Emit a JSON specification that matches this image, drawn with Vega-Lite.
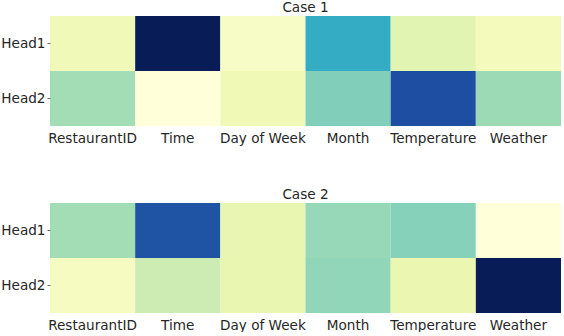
{
  "$schema": "https://vega.github.io/schema/vega-lite/v6.json",
  "padding": {"left": 0, "top": 1, "right": 3, "bottom": 0},
  "background": "white",
  "datasets": {
    "all": [
      {"case": "Case 1", "head": "Head1", "feature": "RestaurantID", "v": 0.10},
      {"case": "Case 1", "head": "Head1", "feature": "Time", "v": 1.0},
      {"case": "Case 1", "head": "Head1", "feature": "Day of Week", "v": 0.06},
      {"case": "Case 1", "head": "Head1", "feature": "Month", "v": 0.53},
      {"case": "Case 1", "head": "Head1", "feature": "Temperature", "v": 0.16},
      {"case": "Case 1", "head": "Head1", "feature": "Weather", "v": 0.09},
      {"case": "Case 1", "head": "Head2", "feature": "RestaurantID", "v": 0.31},
      {"case": "Case 1", "head": "Head2", "feature": "Time", "v": 0.0},
      {"case": "Case 1", "head": "Head2", "feature": "Day of Week", "v": 0.11},
      {"case": "Case 1", "head": "Head2", "feature": "Month", "v": 0.37},
      {"case": "Case 1", "head": "Head2", "feature": "Temperature", "v": 0.80},
      {"case": "Case 1", "head": "Head2", "feature": "Weather", "v": 0.32},
      {"case": "Case 2", "head": "Head1", "feature": "RestaurantID", "v": 0.31},
      {"case": "Case 2", "head": "Head1", "feature": "Time", "v": 0.78},
      {"case": "Case 2", "head": "Head1", "feature": "Day of Week", "v": 0.14},
      {"case": "Case 2", "head": "Head1", "feature": "Month", "v": 0.33},
      {"case": "Case 2", "head": "Head1", "feature": "Temperature", "v": 0.36},
      {"case": "Case 2", "head": "Head1", "feature": "Weather", "v": 0.0},
      {"case": "Case 2", "head": "Head2", "feature": "RestaurantID", "v": 0.07},
      {"case": "Case 2", "head": "Head2", "feature": "Time", "v": 0.23},
      {"case": "Case 2", "head": "Head2", "feature": "Day of Week", "v": 0.14},
      {"case": "Case 2", "head": "Head2", "feature": "Month", "v": 0.34},
      {"case": "Case 2", "head": "Head2", "feature": "Temperature", "v": 0.13},
      {"case": "Case 2", "head": "Head2", "feature": "Weather", "v": 1.0}
    ]
  },
  "spacing": 43,
  "vconcat": [
    {
      "title": "Case 1",
      "width": 511,
      "height": 110,
      "data": {"name": "all"},
      "transform": [{"filter": "datum.case === 'Case 1'"}],
      "mark": {"type": "rect"},
      "encoding": {
        "x": {"field": "feature", "type": "nominal", "sort": ["RestaurantID", "Time", "Day of Week", "Month", "Temperature", "Weather"], "title": null, "scale": {"paddingInner": 0, "paddingOuter": 0}},
        "y": {"field": "head", "type": "nominal", "sort": ["Head1", "Head2"], "title": null, "scale": {"paddingInner": 0, "paddingOuter": 0}},
        "color": {"field": "v", "type": "quantitative", "legend": null, "scale": {"domain": [0, 0.125, 0.25, 0.375, 0.5, 0.625, 0.75, 0.875, 1], "range": ["#ffffd9", "#edf8b1", "#c7e9b4", "#7fcdbb", "#41b6c4", "#1d91c0", "#225ea8", "#253494", "#081d58"]}}
      }
    },
    {
      "title": "Case 2",
      "width": 511,
      "height": 110,
      "data": {"name": "all"},
      "transform": [{"filter": "datum.case === 'Case 2'"}],
      "mark": {"type": "rect"},
      "encoding": {
        "x": {"field": "feature", "type": "nominal", "sort": ["RestaurantID", "Time", "Day of Week", "Month", "Temperature", "Weather"], "title": null, "scale": {"paddingInner": 0, "paddingOuter": 0}},
        "y": {"field": "head", "type": "nominal", "sort": ["Head1", "Head2"], "title": null, "scale": {"paddingInner": 0, "paddingOuter": 0}},
        "color": {"field": "v", "type": "quantitative", "legend": null, "scale": {"domain": [0, 0.125, 0.25, 0.375, 0.5, 0.625, 0.75, 0.875, 1], "range": ["#ffffd9", "#edf8b1", "#c7e9b4", "#7fcdbb", "#41b6c4", "#1d91c0", "#225ea8", "#253494", "#081d58"]}}
      }
    }
  ],
  "resolve": {"scale": {"color": "independent"}},
  "config": {
    "view": {"stroke": null},
    "font": "DejaVu Sans",
    "title": {"fontSize": 13.6, "fontWeight": "normal", "color": "#262626", "font": "DejaVu Sans", "offset": 1},
    "axis": {"domain": false, "labelFont": "DejaVu Sans", "labelFontSize": 13.6, "labelColor": "#262626", "grid": false},
    "axisX": {"ticks": false, "labelPadding": 5, "labelAngle": 0},
    "axisY": {"ticks": true, "tickSize": 3, "tickColor": "#666666", "labelPadding": 2}
  }
}
